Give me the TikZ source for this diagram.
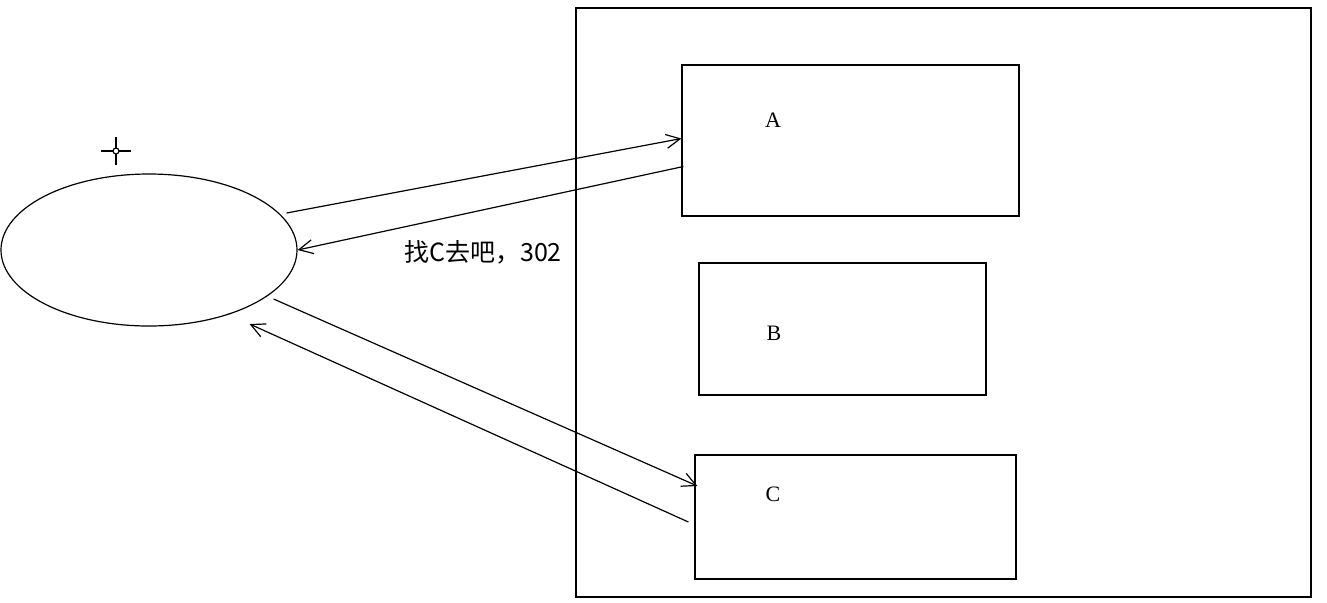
\documentclass[tikz,border=0pt]{standalone}
\usepackage{fontspec}
\newfontfamily\cjk{Noto Sans CJK SC}
\newfontfamily\timesfont{Liberation Serif}
\usetikzlibrary{calc,arrows.meta,shapes.geometric}

\begin{document}
\begin{tikzpicture}[x=0.5pt,y=-0.5pt,line width=0.6pt,
  box/.style={draw, rectangle, inner sep=0pt},
  lbl/.style={font=\timesfont\fontsize{11}{13}\selectfont, inner sep=0pt},
  req/.style={-{Straight Barb[length=7pt,width=7pt,line width=0.6pt]}}]
  \useasboundingbox (0,0) rectangle (1327,602);
  % client
  \node[draw, ellipse, inner sep=0pt, minimum width=148pt, minimum height=76pt]
    (client) at (149,250) {};
  \coordinate (cross) at (116,151);
  \draw ($(cross)+(-15,0)$)--($(cross)+(15,0)$);
  \draw ($(cross)+(0,-14)$)--($(cross)+(0,14)$);
  \draw[fill=white] (cross) circle (1.5pt);
  % server
  \node[box, minimum width=367.5pt, minimum height=294.5pt] (server) at (943.5,302.5) {};
  \node[box, minimum width=168.5pt, minimum height=75.5pt] (A) at (850.5,140.5) {};
  \node[box, minimum width=143.5pt, minimum height=66pt] (B) at (842.5,329) {};
  \node[box, minimum width=160.5pt, minimum height=62pt] (C) at (855.5,517) {};
  \node[lbl] (la) at (773,120) {A};
  \node[lbl] (lb) at (774,333) {B};
  \node[lbl] (lc) at (773,494) {C};
  % requests
  \draw[req] ($(client.east)+(-11,-37)$)--($(A.west)+(0,-2)$);
  \draw[req] ($(A.west)+(2,26)$)--(client.east);
  \node[font=\cjk\fontsize{12.5}{15}\selectfont, inner sep=0pt] (msg) at (483,252) {找C去吧，302};
  \draw[req] ($(client.east)+(-24,49)$)--($(C.west)+(3,-31)$);
  \draw[req] ($(C.west)+(-6,5)$)--($(client.east)+(-48,74)$);
\end{tikzpicture}
\end{document}
